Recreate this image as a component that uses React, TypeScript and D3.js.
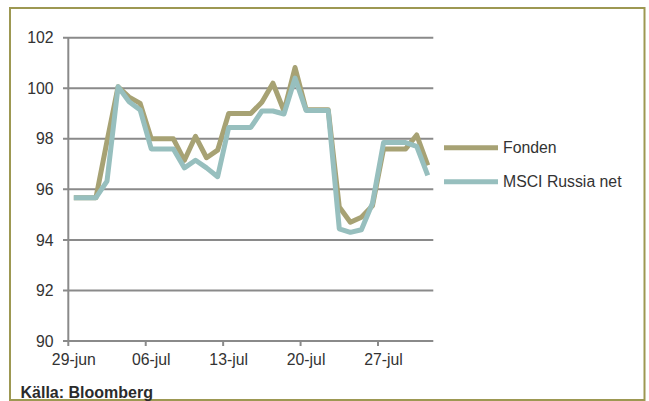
import React from "react";
import * as d3 from "d3";

// Daily index levels, 29 June – 31 July
const dates: string[] = [
  "2012-06-29", "2012-06-30", "2012-07-01", "2012-07-02", "2012-07-03",
  "2012-07-04", "2012-07-05", "2012-07-06", "2012-07-07", "2012-07-08",
  "2012-07-09", "2012-07-10", "2012-07-11", "2012-07-12", "2012-07-13",
  "2012-07-14", "2012-07-15", "2012-07-16", "2012-07-17", "2012-07-18",
  "2012-07-19", "2012-07-20", "2012-07-21", "2012-07-22", "2012-07-23",
  "2012-07-24", "2012-07-25", "2012-07-26", "2012-07-27", "2012-07-28",
  "2012-07-29", "2012-07-30", "2012-07-31",
];

const fonden: number[] = [
  95.67, 95.67, 95.67, 97.9, 100.06, 99.65, 99.4, 98.0, 98.0, 98.0,
  97.15, 98.1, 97.25, 97.55, 99.0, 99.0, 99.0, 99.45, 100.2, 99.1,
  100.82, 99.15, 99.15, 99.15, 95.3, 94.7, 94.9, 95.35, 97.6, 97.6,
  97.6, 98.15, 96.95,
];

const msci: number[] = [
  95.67, 95.67, 95.67, 96.33, 100.06, 99.47, 99.14, 97.6, 97.6, 97.6,
  96.85, 97.15, 96.85, 96.5, 98.45, 98.45, 98.45, 99.1, 99.1, 98.98,
  100.4, 99.12, 99.12, 99.12, 94.44, 94.3, 94.4, 95.45, 97.85, 97.85,
  97.85, 97.7, 96.55,
];

const seriesNames: string[] = ["Fonden", "MSCI Russia net"];
const seriesColors: string[] = ["#a7a274", "#97bfbe"];

const yTicks: number[] = [90, 92, 94, 96, 98, 100, 102];
const xTickDates: string[] = ["2012-06-29", "2012-07-06", "2012-07-13", "2012-07-20", "2012-07-27"];
const xTickLabels: string[] = ["29-jun", "06-jul", "13-jul", "20-jul", "27-jul"];

const sourceText = "Källa: Bloomberg";

const W = 649;
const H = 401;
const FONT = "'Liberation Sans', Arial, sans-serif";
const DAY = 24 * 3600 * 1000;

export default function App() {
  const parse = (s: string) => new Date(s + "T00:00:00Z");
  const start = parse(dates[0]);
  const end = new Date(parse(dates[dates.length - 1]).getTime() + DAY);

  const x = d3.scaleUtc().domain([start, end]).range([68.3, 433.3]);
  const y = d3.scaleLinear().domain([90, 102]).range([341, 37.7]);

  const mid = (s: string) => new Date(parse(s).getTime() + DAY / 2);

  const line = d3
    .line<number>()
    .x((_, i) => x(mid(dates[i])))
    .y((v) => y(v));

  const series = [fonden, msci];
  const legendY = [147.7, 181.7];

  return (
    <div style={{ position: "absolute", left: 0, top: 0 }}>
      <svg width={W} height={H} style={{ display: "block", background: "#fff" }}>
        {/* outer frame */}
        <rect x={10} y={8} width={634.5} height={392} fill="none" stroke="#9d9852" strokeWidth={2} />

        {/* horizontal gridlines and y ticks */}
        {yTicks.map((t) => (
          <g key={t}>
            <line x1={63} x2={433.3} y1={y(t)} y2={y(t)} stroke="#8a8a8a" strokeWidth={2} />
            <text
              x={53.5}
              y={y(t)}
              dy="0.36em"
              textAnchor="end"
              fontFamily={FONT}
              fontSize={15.8}
              fill="#333"
            >
              {t}
            </text>
          </g>
        ))}

        {/* y axis */}
        <line x1={x(start)} x2={x(start)} y1={y(102)} y2={y(90)} stroke="#8a8a8a" strokeWidth={2} />

        {/* x ticks and labels */}
        {xTickDates.map((d, i) => (
          <g key={d}>
            <line x1={x(parse(d))} x2={x(parse(d))} y1={y(90)} y2={y(90) + 5} stroke="#8a8a8a" strokeWidth={2} />
            <text
              x={x(mid(d))}
              y={365}
              textAnchor="middle"
              fontFamily={FONT}
              fontSize={15.8}
              fill="#333"
            >
              {xTickLabels[i]}
            </text>
          </g>
        ))}

        {/* series lines */}
        {series.map((vals, i) => (
          <path
            key={seriesNames[i]}
            d={line(vals) || ""}
            fill="none"
            stroke={seriesColors[i]}
            strokeWidth={5}
            strokeLinejoin="round"
          />
        ))}

        {/* legend */}
        {seriesNames.map((name, i) => (
          <g key={name}>
            <line x1={444} x2={498} y1={legendY[i]} y2={legendY[i]} stroke={seriesColors[i]} strokeWidth={5} />
            <text x={503} y={legendY[i]} dy="0.36em" fontFamily={FONT} fontSize={15.8} fill="#333">
              {name}
            </text>
          </g>
        ))}

        {/* source */}
        <text x={20.5} y={397.5} fontFamily={FONT} fontSize={16} fontWeight="bold" fill="#2b2b2b">
          {sourceText}
        </text>
      </svg>
    </div>
  );
}
